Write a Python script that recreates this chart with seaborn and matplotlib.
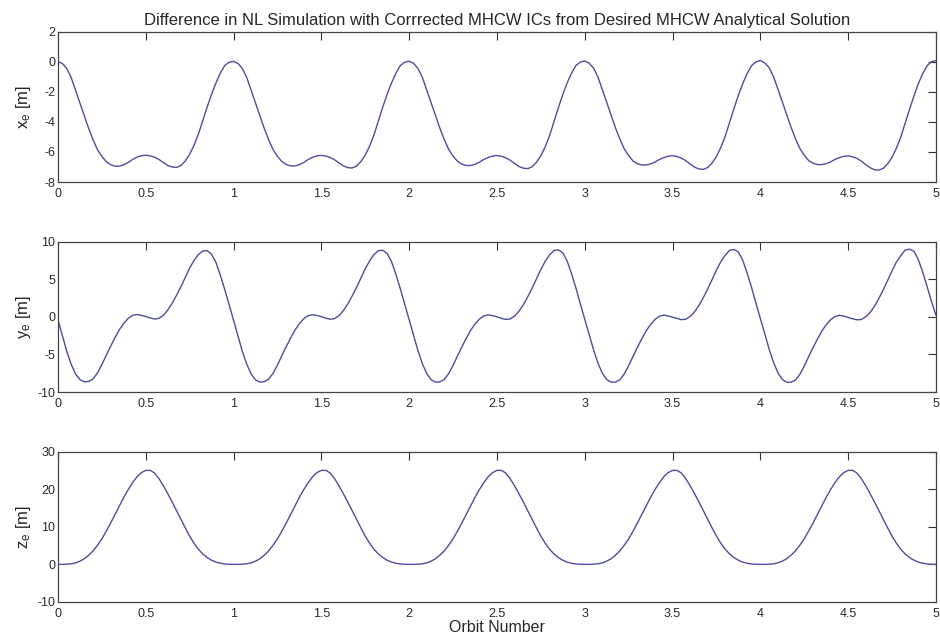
import numpy as np
import pandas as pd
import matplotlib
matplotlib.use("Agg")
import matplotlib.pyplot as plt
import seaborn as sns

# ---- data (orbit number step 0.025) ----
orbit = [round(0.025 * i, 3) for i in range(201)]

x_e = [
    0.00, -0.12, -0.45, -1.05, -1.9, -2.75, -3.6, -4.45, -5.2, -5.85, -6.3, -6.65, -6.85, -6.95, -6.95, -6.85, -6.7, -6.5, -6.35, -6.25,
    -6.22, -6.26, -6.35, -6.5, -6.7, -6.9, -7.0, -7.03, -6.9, -6.6, -6.15, -5.55, -4.8, -3.9, -3.0, -2.15, -1.4, -0.75, -0.25, -0.03,
    0.02, -0.12, -0.45, -1.05, -1.9, -2.75, -3.6, -4.45, -5.2, -5.85, -6.3, -6.64, -6.84, -6.93, -6.93, -6.84, -6.7, -6.5, -6.36, -6.26,
    -6.23, -6.27, -6.37, -6.52, -6.73, -6.93, -7.04, -7.07, -6.94, -6.64, -6.2, -5.6, -4.85, -3.93, -3.0, -2.15, -1.4, -0.75, -0.25, -0.03,
    0.03, -0.11, -0.45, -1.04, -1.88, -2.73, -3.58, -4.43, -5.18, -5.83, -6.28, -6.62, -6.81, -6.9, -6.9, -6.82, -6.68, -6.5, -6.37, -6.27,
    -6.24, -6.29, -6.39, -6.55, -6.76, -6.97, -7.08, -7.11, -6.99, -6.69, -6.25, -5.65, -4.9, -3.97, -3.05, -2.18, -1.4, -0.75, -0.25, -0.02,
    0.05, -0.1, -0.42, -1.02, -1.85, -2.7, -3.55, -4.4, -5.15, -5.8, -6.25, -6.6, -6.78, -6.87, -6.87, -6.8, -6.67, -6.5, -6.38, -6.28,
    -6.25, -6.3, -6.41, -6.58, -6.8, -7.01, -7.13, -7.16, -7.04, -6.74, -6.3, -5.7, -4.95, -4.02, -3.1, -2.22, -1.45, -0.78, -0.26, -0.01,
    0.08, -0.08, -0.4, -1.0, -1.82, -2.67, -3.52, -4.37, -5.12, -5.77, -6.22, -6.57, -6.75, -6.84, -6.84, -6.78, -6.66, -6.5, -6.38, -6.29,
    -6.26, -6.32, -6.43, -6.61, -6.84, -7.05, -7.18, -7.21, -7.09, -6.79, -6.35, -5.75, -5.0, -4.07, -3.15, -2.26, -1.45, -0.78, -0.26, 0.0,
    0.08,
]

y_e = [
    -0.4, -2.5, -4.6, -6.3, -7.6, -8.35, -8.65, -8.6, -8.25, -7.45, -6.35, -5.1, -3.9, -2.75, -1.7, -0.85, -0.2, 0.2, 0.3, 0.2,
    0.05, -0.15, -0.3, -0.2, 0.2, 0.9, 1.8, 2.85, 4.0, 5.25, 6.5, 7.5, 8.3, 8.75, 8.8, 8.3, 7.2, 5.5, 3.6, 1.6,
    -0.5, -2.55, -4.6, -6.3, -7.6, -8.38, -8.68, -8.63, -8.28, -7.5, -6.4, -5.15, -3.95, -2.8, -1.75, -0.9, -0.25, 0.16, 0.28, 0.18,
    0.03, -0.17, -0.32, -0.24, 0.15, 0.82, 1.7, 2.75, 3.9, 5.15, 6.4, 7.45, 8.3, 8.8, 8.85, 8.4, 7.3, 5.6, 3.7, 1.65,
    -0.4, -2.45, -4.5, -6.22, -7.55, -8.36, -8.68, -8.65, -8.32, -7.55, -6.45, -5.2, -4.0, -2.85, -1.8, -0.95, -0.3, 0.12, 0.26, 0.16,
    0.0, -0.2, -0.35, -0.28, 0.1, 0.74, 1.6, 2.65, 3.8, 5.05, 6.3, 7.4, 8.25, 8.82, 8.9, 8.5, 7.4, 5.7, 3.8, 1.7,
    -0.3, -2.35, -4.4, -6.14, -7.5, -8.34, -8.7, -8.68, -8.36, -7.6, -6.5, -5.25, -4.05, -2.9, -1.85, -1.0, -0.35, 0.08, 0.22, 0.12,
    -0.05, -0.23, -0.38, -0.32, 0.05, 0.66, 1.5, 2.55, 3.7, 4.95, 6.2, 7.35, 8.2, 8.85, 8.95, 8.6, 7.5, 5.8, 3.9, 1.8,
    -0.2, -2.25, -4.3, -6.06, -7.45, -8.32, -8.7, -8.7, -8.4, -7.65, -6.55, -5.3, -4.1, -2.95, -1.9, -1.05, -0.4, 0.05, 0.2, 0.1,
    -0.08, -0.26, -0.4, -0.36, 0.0, 0.58, 1.4, 2.45, 3.6, 4.85, 6.1, 7.3, 8.15, 8.88, 9.0, 8.7, 7.6, 5.9, 4.0, 2.0,
    0.2,
]

z_e = [
    0.0, 0.0, 0.05, 0.15, 0.4, 0.85, 1.5, 2.45, 3.6, 5.1, 6.8, 8.85, 11.0, 13.3, 15.6, 17.85, 19.9, 21.75, 23.3, 24.4,
    25.0, 25.0, 24.3, 22.8, 20.9, 18.8, 16.6, 14.3, 12.0, 9.7, 7.5, 5.6, 4.0, 2.75, 1.8, 1.1, 0.6, 0.3, 0.1, 0.02,
    0.0, 0.0, 0.05, 0.15, 0.4, 0.85, 1.5, 2.45, 3.6, 5.1, 6.8, 8.85, 11.0, 13.3, 15.6, 17.85, 19.9, 21.75, 23.3, 24.4,
    25.0, 25.0, 24.3, 22.8, 20.9, 18.8, 16.6, 14.3, 12.0, 9.7, 7.5, 5.6, 4.0, 2.75, 1.8, 1.1, 0.6, 0.3, 0.1, 0.02,
    0.0, 0.0, 0.05, 0.15, 0.4, 0.85, 1.5, 2.45, 3.6, 5.1, 6.8, 8.85, 11.0, 13.3, 15.6, 17.85, 19.9, 21.75, 23.3, 24.4,
    25.0, 25.0, 24.3, 22.8, 20.9, 18.8, 16.6, 14.3, 12.0, 9.7, 7.5, 5.6, 4.0, 2.75, 1.8, 1.1, 0.6, 0.3, 0.1, 0.02,
    0.0, 0.0, 0.05, 0.15, 0.4, 0.85, 1.5, 2.45, 3.6, 5.1, 6.8, 8.85, 11.0, 13.3, 15.6, 17.85, 19.9, 21.75, 23.3, 24.4,
    25.0, 25.0, 24.3, 22.8, 20.9, 18.8, 16.6, 14.3, 12.0, 9.7, 7.5, 5.6, 4.0, 2.75, 1.8, 1.1, 0.6, 0.3, 0.1, 0.02,
    0.0, 0.0, 0.05, 0.15, 0.4, 0.85, 1.5, 2.45, 3.6, 5.1, 6.8, 8.85, 11.0, 13.3, 15.6, 17.85, 19.9, 21.75, 23.3, 24.4,
    25.0, 25.0, 24.3, 22.8, 20.9, 18.8, 16.6, 14.3, 12.0, 9.7, 7.5, 5.6, 4.0, 2.75, 1.8, 1.1, 0.6, 0.3, 0.1, 0.02,
    0.0,
]

x_ticks = [0, 0.5, 1, 1.5, 2, 2.5, 3, 3.5, 4, 4.5, 5]
x_ticklabels = ["0", "0.5", "1", "1.5", "2", "2.5", "3", "3.5", "4", "4.5", "5"]
x_yticks = [-8, -6, -4, -2, 0, 2]
y_yticks = [-10, -5, 0, 5, 10]
z_yticks = [-10, 0, 10, 20, 30]
ylabels = [r"x$_\mathregular{e}$ [m]", r"y$_\mathregular{e}$ [m]", r"z$_\mathregular{e}$ [m]"]
title = "Difference in NL Simulation with Corrrected MHCW ICs from Desired MHCW Analytical Solution"
xlabel = "Orbit Number"

sns.set_theme(style="white")
plt.rcParams["font.family"] = ["Liberation Sans", "DejaVu Sans"]
plt.rcParams["mathtext.fontset"] = "custom"
plt.rcParams["mathtext.rm"] = "Liberation Sans"
plt.rcParams["mathtext.it"] = "Liberation Sans"

df = pd.DataFrame({"orbit": orbit, "x": x_e, "y": y_e, "z": z_e})

fig = plt.figure(figsize=(9.4, 6.36), dpi=100)
positions = [
    [0.0617, 0.7138, 0.934, 0.2365],
    [0.0617, 0.3836, 0.934, 0.2365],
    [0.0617, 0.0535, 0.934, 0.2365],
]
cols = ["x", "y", "z"]
yticks_all = [x_yticks, y_yticks, z_yticks]
line_color = "#4d4d9e"

for i in range(3):
    ax = fig.add_axes(positions[i])
    sns.lineplot(data=df, x="orbit", y=cols[i], ax=ax, color=line_color, linewidth=1.0)
    ax.set_xlim(0, 5)
    yt = yticks_all[i]
    ax.set_ylim(yt[0], yt[-1])
    ax.set_yticks(yt)
    ax.set_yticklabels([str(v) for v in yt])
    ax.set_xticks(x_ticks)
    ax.set_xticklabels(x_ticklabels)
    ax.tick_params(axis="both", direction="in", length=6, width=0.8, color="#333333",
                   labelsize=9, labelcolor="#2a2a2a", top=True, right=True)
    ax.tick_params(axis="x", pad=4)
    ax.tick_params(axis="y", pad=2)
    for sp in ax.spines.values():
        sp.set_visible(True)
        sp.set_color("#444444")
        sp.set_linewidth(0.9)
    ax.set_ylabel(ylabels[i], fontsize=12)
    ax.yaxis.set_label_coords(-0.029, 0.5)
    ax.set_xlabel("")
    ax.grid(False)
    if i == 0:
        ax.set_title(title, fontsize=12, pad=5)
    if i == 2:
        ax.set_xlabel(xlabel, fontsize=11.5)
        ax.xaxis.set_label_coords(0.5, -0.12)

fig.savefig("out.png", dpi=100)
